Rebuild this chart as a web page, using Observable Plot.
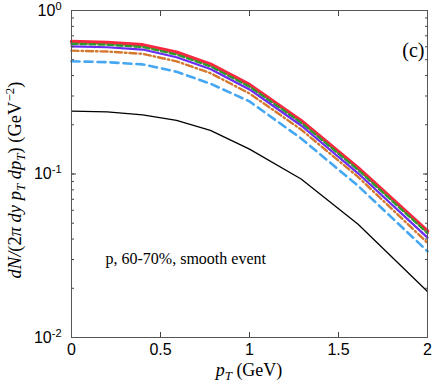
<!DOCTYPE html>
<html><head><meta charset="utf-8">
<script src="https://cdn.jsdelivr.net/npm/d3@7"></script>
<script src="https://cdn.jsdelivr.net/npm/@observablehq/plot@0.6"></script>
<style>html,body{margin:0;padding:0;background:#fff;}</style>
</head><body><div id="chart"></div>
<script>
// transverse momentum grid (GeV)
const pT = [0, 0.2, 0.4, 0.59, 0.78, 1.0, 1.29, 1.61, 2.0];
// spectra dN/(2π dy pT dpT)
const redValues    = [0.645, 0.637, 0.616, 0.555, 0.470, 0.352, 0.212, 0.109, 0.0447];
const greenValues  = [0.626, 0.618, 0.598, 0.538, 0.456, 0.342, 0.206, 0.106, 0.0435];
const purpleValues = [0.604, 0.596, 0.577, 0.518, 0.439, 0.329, 0.198, 0.101, 0.0408];
const orangeValues = [0.568, 0.561, 0.543, 0.489, 0.414, 0.311, 0.187, 0.096, 0.0379];
const blueValues   = [0.489, 0.483, 0.468, 0.422, 0.357, 0.278, 0.165, 0.0846, 0.0337];
const blackValues  = [0.2425, 0.240, 0.230, 0.213, 0.185, 0.142, 0.0932, 0.0493, 0.0191];

const xTickValues = [0, 0.5, 1, 1.5, 2];
const yMajorTicks = [0.01, 0.1, 1];
const caption = "p, 60-70%, smooth event";
const panelLabel = "(c)";

const series = [
  {name: "red",    values: redValues,    stroke: "#F7283F", width: 3.6, dash: null},
  {name: "green",  values: greenValues,  stroke: "#2F9B2C", width: 2.4, dash: "6,3"},
  {name: "purple", values: purpleValues, stroke: "#6A2BF2", width: 2.2, dash: null},
  {name: "orange", values: orangeValues, stroke: "#D4782E", width: 2.4, dash: "7,3,1.5,3"},
  {name: "blue",   values: blueValues,   stroke: "#45A7F2", width: 2.6, dash: "8,5"},
  {name: "black",  values: blackValues,  stroke: "#000000", width: 1.3, dash: null}
];
const rows = series.map(s => pT.map((x, i) => ({x, y: s.values[i]})));

const yMinorTicks = [];
for (const dec of [0.01, 0.1]) for (let k = 1; k <= 9; k++) yMinorTicks.push(+(k * dec).toPrecision(3));

const empty = () => "";
const serif = "Liberation Serif, 'Times New Roman', serif";
const plot = Plot.plot({
  width: 436, height: 382,
  marginLeft: 71, marginRight: 9, marginTop: 10, marginBottom: 45,
  style: {fontFamily: "Liberation Sans, Arial, sans-serif", fontSize: "16px", background: "#fff", color: "#000", overflow: "visible"},
  x: {domain: [0, 2]},
  y: {type: "log", domain: [0.01, 1]},
  marks: [
    ...series.map((s, i) => Plot.line(rows[i], {x: "x", y: "y", stroke: s.stroke, strokeWidth: s.width, strokeDasharray: s.dash, strokeLinejoin: "round"})),
    Plot.axisX(xTickValues, {anchor: "bottom", tickSize: 0, tickPadding: 6, label: null, fontSize: 16, tickFormat: d => String(d)}),
    Plot.axisX(xTickValues, {anchor: "bottom", tickSize: -5, tickFormat: empty, label: null, stroke: "#444"}),
    Plot.axisX(xTickValues, {anchor: "top", tickSize: -5, tickFormat: empty, label: null, stroke: "#444"}),
    Plot.axisY(yMinorTicks, {anchor: "left", tickSize: -3, tickFormat: empty, label: null, stroke: "#444"}),
    Plot.axisY(yMinorTicks, {anchor: "right", tickSize: -3, tickFormat: empty, label: null, stroke: "#444"}),
    Plot.axisY(yMajorTicks, {anchor: "left", tickSize: -5, tickFormat: empty, label: null, stroke: "#444"}),
    Plot.axisY(yMajorTicks, {anchor: "right", tickSize: -5, tickFormat: empty, label: null, stroke: "#444"}),
    Plot.axisY(yMajorTicks, {anchor: "left", tickSize: 0, tickPadding: 10, label: null, fontSize: 16,
      tickFormat: d => "10^" + Math.round(Math.log10(d))}),
    Plot.frame({stroke: "#555", strokeWidth: 1}),
    Plot.text([caption], {frameAnchor: "bottom-left", dx: 34, dy: -74, textAnchor: "start",
      fontFamily: serif, fontSize: 16}),
    Plot.text([panelLabel], {frameAnchor: "top-right", dx: -3, dy: 32, textAnchor: "end",
      fontFamily: serif, fontSize: 20})
  ]
});
document.getElementById("chart").appendChild(plot);

const svg = d3.select(plot);
// superscripts for y tick labels
svg.selectAll("text").each(function() {
  const t = d3.select(this);
  const s = t.text();
  if (/^10\^/.test(s)) {
    const [b, e] = s.split("^");
    t.text("");
    t.append("tspan").text(b);
    t.append("tspan").attr("dy", "-0.55em").attr("font-size", "11px").text(e);
  }
});

function rich(sel, parts) {
  let cur = 0;
  for (const p of parts) {
    const shift = p.shift || 0;
    const ts = sel.append("tspan").text(p.t);
    if (shift !== cur) ts.attr("dy", shift - cur);
    cur = shift;
    if (p.it) ts.attr("font-style", "italic");
    if (p.size) ts.attr("font-size", p.size);
  }
}
// x label
const xl = svg.append("text").attr("x", 249).attr("y", 376).attr("text-anchor", "middle")
  .attr("font-family", serif).attr("font-size", 18).attr("fill", "#000");
rich(xl, [{t: "p", it: true}, {t: "T", it: true, shift: 4, size: 13}, {t: " (GeV)"}]);
// y label
const yl = svg.append("text").attr("transform", "translate(21,180) rotate(-90)").attr("text-anchor", "middle")
  .attr("font-family", serif).attr("font-size", 18.5).attr("fill", "#000");
rich(yl, [
  {t: "dN/", it: true}, {t: "(2"}, {t: "π dy p", it: true}, {t: "T", it: true, shift: 4, size: 13},
  {t: " dp", it: true}, {t: "T", it: true, shift: 4, size: 13}, {t: ") (GeV"},
  {t: "−2", shift: -7, size: 13}, {t: ")"}
]);
</script>
</body></html>
